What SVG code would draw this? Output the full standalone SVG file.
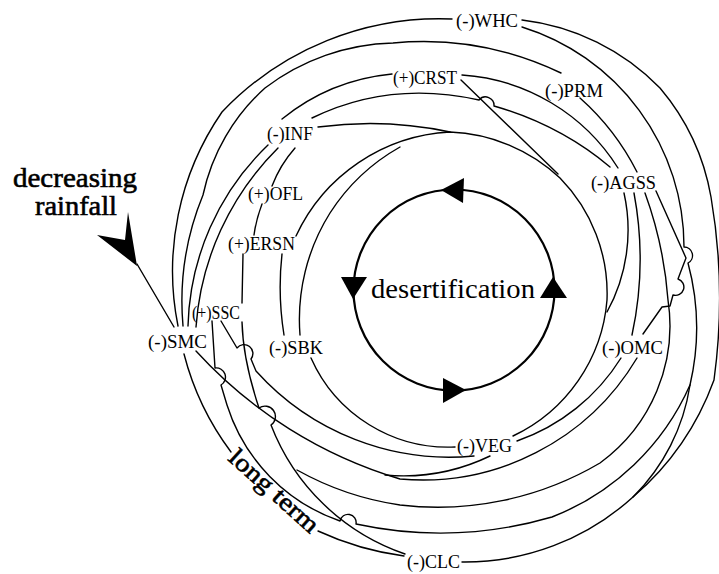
<svg xmlns="http://www.w3.org/2000/svg" width="719" height="574" viewBox="0 0 719 574">
<style>
.c{fill:none;stroke:#000;stroke-width:1.4;stroke-linecap:round;stroke-linejoin:round}
.l{font-family:"Liberation Serif","Times New Roman",serif;font-size:19.5px;fill:#000}
.big{font-family:"Liberation Serif","Times New Roman",serif;font-size:27px;fill:#000}
.b{font-family:"Liberation Serif","Times New Roman",serif;font-size:28px;fill:#000;stroke:#000;stroke-width:0.6}
.ah{fill:#000;stroke:none}
</style>
<rect width="719" height="574" fill="#fff"/>
<g id="connectors">
<path class="c" d="M 452 19 A 300 300 0 0 0 222 112 A 280 280 0 0 0 178 326"/>
<path class="c" d="M 183 326 A 280 280 0 0 1 203 195 A 200 200 0 0 1 265 88 A 220 220 0 0 1 393 43 A 320 320 0 0 1 561 73"/>
<path class="c" d="M 392 74 Q 330 80 282 119"/>
<path class="c" d="M 268 145 A 260 260 0 0 0 188 326"/>
<path class="c" d="M 278 148 A 280 280 0 0 0 196 327"/>
<path class="c" d="M 295 148 Q 280 165 272 186"/>
<path class="c" d="M 262 204 Q 256 220 254 235"/>
<path class="c" d="M 243 254 L 242 303"/>
<path class="c" d="M 282 254 A 300 300 0 0 0 284 335"/>
<path class="c" d="M 296 236 A 180 180 0 0 1 450 132 A 170 170 0 0 1 560 178 A 165 165 0 0 1 607 300 A 165 165 0 0 1 513 436"/>
<path class="c" d="M 318 127 Q 385 118 450 132"/>
<path class="c" d="M 300 335 A 200 200 0 0 1 330 213 A 200 200 0 0 1 400 147"/>
<path class="c" d="M 312 118 Q 390 80 479 100 A 8.5 8.5 0 0 1 494 106 Q 560 125 610 167"/>
<path class="c" d="M 462 75 A 200 200 0 0 1 618 168"/>
<path class="c" d="M 461 80 L 558 174"/>
<path class="c" d="M 580 98 A 250 250 0 0 1 637 172"/>
<path class="c" d="M 522 20 A 230 230 0 0 1 660 88 A 230 230 0 0 1 711 197 A 600 600 0 0 1 714 380 A 280 280 0 0 1 633 497 A 250 250 0 0 1 462 562"/>
<path class="c" d="M 522 27 A 230 230 0 0 1 684 247 A 8.5 8.5 0 0 1 688 263 A 250 250 0 0 1 690 385 A 200 200 0 0 1 633 497"/>
<path class="c" d="M 656 191 L 686 258 L 681 271 L 678 279 A 7 7 0 0 1 673 295 L 670 306 L 662 307 L 643 334"/>
<path class="c" d="M 624 193 A 170 170 0 0 1 607 312"/>
<path class="c" d="M 634 193 A 360 360 0 0 1 632 335"/>
<path class="c" d="M 645 193 A 400 400 0 0 1 668 300 A 170 170 0 0 1 600 463 A 320 320 0 0 1 400 505 A 300 300 0 0 1 297 470"/>
<path class="c" d="M 621 358 A 200 200 0 0 1 517 441"/>
<path class="c" d="M 196 351 A 450 450 0 0 0 400 479 A 250 250 0 0 0 637 358"/>
<path class="c" d="M 490 456 A 200 200 0 0 1 385 475"/>
<path class="c" d="M 311 358 A 150 150 0 0 0 455 447"/>
<path class="c" d="M 221 321 L 237 348 A 8 8 0 0 1 251 359 L 256 371 A 260 260 0 0 0 474 456"/>
<path class="c" d="M 242 322 Q 243 360 259 408 A 7 7 0 0 1 271 425 A 220 220 0 0 0 405 554"/>
<path class="c" d="M 212 321 L 215 368 A 9.2 9.2 0 0 1 221 385 L 227 405 A 180 180 0 0 0 340 521 A 8 8 0 0 1 356 524 A 400 400 0 0 0 552 517 A 250 250 0 0 0 690 385"/>
<path class="c" d="M 184 354 A 280 280 0 0 0 231 452"/>
<path class="c" d="M 318 531 A 300 300 0 0 0 404 556"/>
<path class="c" d="M 137 264 L 174 327"/>
<polygon class="ah" points="137,266 97,235 125,240 128,212"/>
</g>
<g id="desertification">
<circle cx="454" cy="290" r="100.5" fill="none" stroke="#000" stroke-width="2.2"/>
<polygon class="ah" points="441,190 464,178 463,203"/>
<polygon class="ah" points="341,277 367,277 353,299"/>
<polygon class="ah" points="553,277 540,298 567,298"/>
<polygon class="ah" points="466,390 443,378 443,403"/>
<text class="big" x="371" y="298" textLength="164" lengthAdjust="spacingAndGlyphs">desertification</text>
</g>
<g id="rainfall">
<text class="b" x="13" y="187" textLength="124" lengthAdjust="spacingAndGlyphs">decreasing</text>
<text class="b" x="35" y="215" textLength="82" lengthAdjust="spacingAndGlyphs">rainfall</text>
</g>
<g id="longterm">
<text class="b" style="font-size:25px" transform="translate(274,491) rotate(42)" x="0" y="8" text-anchor="middle" textLength="112" lengthAdjust="spacingAndGlyphs">long term</text>
</g>
<g id="WHC"><text class="l" x="456" y="27" textLength="62" lengthAdjust="spacingAndGlyphs">(-)WHC</text></g>
<g id="CRST"><text class="l" x="393" y="84" textLength="64" lengthAdjust="spacingAndGlyphs">(+)CRST</text></g>
<g id="PRM"><text class="l" x="545" y="97" textLength="58" lengthAdjust="spacingAndGlyphs">(-)PRM</text></g>
<g id="INF"><text class="l" x="267" y="140" textLength="46" lengthAdjust="spacingAndGlyphs">(-)INF</text></g>
<g id="OFL"><text class="l" x="248" y="200" textLength="55" lengthAdjust="spacingAndGlyphs">(+)OFL</text></g>
<g id="ERSN"><text class="l" x="228" y="250" textLength="67" lengthAdjust="spacingAndGlyphs">(+)ERSN</text></g>
<g id="SSC"><text class="l" x="192" y="319" textLength="48" lengthAdjust="spacingAndGlyphs">(+)SSC</text></g>
<g id="SMC"><text class="l" x="148" y="348" textLength="59" lengthAdjust="spacingAndGlyphs">(-)SMC</text></g>
<g id="SBK"><text class="l" x="269" y="354" textLength="54" lengthAdjust="spacingAndGlyphs">(-)SBK</text></g>
<g id="AGSS"><text class="l" x="591" y="189" textLength="65" lengthAdjust="spacingAndGlyphs">(-)AGSS</text></g>
<g id="OMC"><text class="l" x="602" y="354" textLength="61" lengthAdjust="spacingAndGlyphs">(-)OMC</text></g>
<g id="VEG"><text class="l" x="457" y="452" textLength="55" lengthAdjust="spacingAndGlyphs">(-)VEG</text></g>
<g id="CLC"><text class="l" x="407" y="568" textLength="53" lengthAdjust="spacingAndGlyphs">(-)CLC</text></g>
</svg>
